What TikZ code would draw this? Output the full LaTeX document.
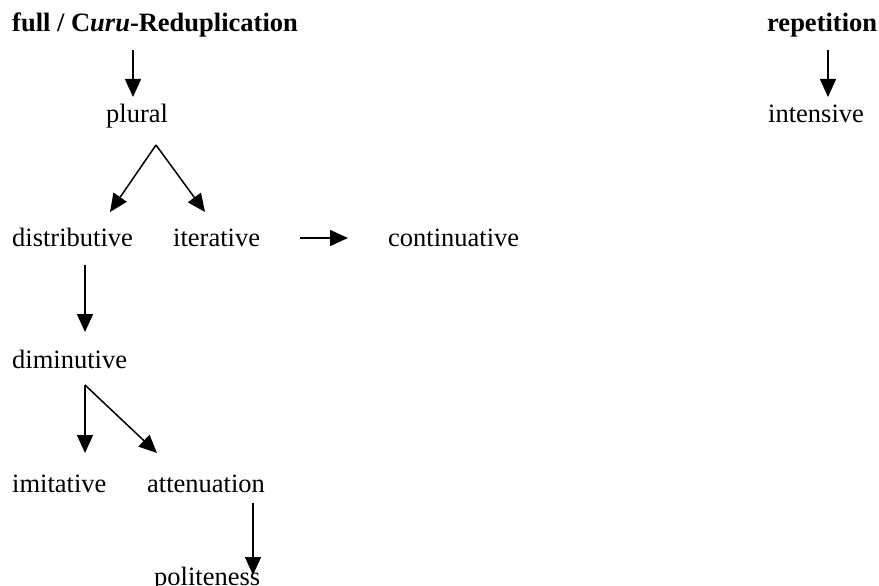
\documentclass[tikz,border=0pt]{standalone}
\usepackage{fontspec}
\setmainfont{Liberation Serif}
\usetikzlibrary{arrows.meta}
\begin{document}
\begin{tikzpicture}[x=1pt,y=-1pt,
        lbl/.style={anchor=base west,inner sep=0pt,font=\fontsize{26.5}{30}\selectfont},
        head/.style={lbl,font=\fontsize{26.5}{30}\selectfont\bfseries},
        arr/.style={line width=1.5pt,-{Triangle[length=18pt,width=16pt]}}]
        \useasboundingbox (0,0) rectangle (879,586);
        \node[head] (full) at (12,32) {full / C\textit{uru}-Reduplication};
        \node[head] (rep) at (767,32) {repetition};
        \node[lbl] (plural) at (106,123) {plural};
        \node[lbl] (intens) at (768,123) {intensive};
        \node[lbl] (distr) at (12,246) {distributive};
        \node[lbl] (iter) at (173,246) {iterative};
        \node[lbl] (contin) at (388,246) {continuative};
        \node[lbl] (dimin) at (12,368) {diminutive};
        \node[lbl] (imit) at (12,492) {imitative};
        \node[lbl] (atten) at (147,492) {attenuation};
        \node[lbl] (polit) at (154,585) {politeness};
        \coordinate (F1) at (133,50);  \coordinate (P1) at (133,97);
        \coordinate (P2) at (156,145); \coordinate (D1) at (110,212);
        \coordinate (I1) at (205,212);
        \coordinate (I2) at (300,238); \coordinate (C1) at (348,238);
        \coordinate (D2) at (85,265);  \coordinate (M1) at (85,332);
        \coordinate (M2) at (85,385);  \coordinate (T1) at (85,453);
        \coordinate (A1) at (157,453);
        \coordinate (A2) at (253,503); \coordinate (L1) at (253,575);
        \coordinate (R1) at (828,50);  \coordinate (N1) at (828,97);
        \draw[arr] (F1)--(P1);
        \draw[arr] (P2)--(D1);
        \draw[arr] (P2)--(I1);
        \draw[arr] (I2)--(C1);
        \draw[arr] (D2)--(M1);
        \draw[arr] (M2)--(T1);
        \draw[arr] (M2)--(A1);
        \draw[arr] (A2)--(L1);
        \draw[arr] (R1)--(N1);
\end{tikzpicture}
\end{document}
